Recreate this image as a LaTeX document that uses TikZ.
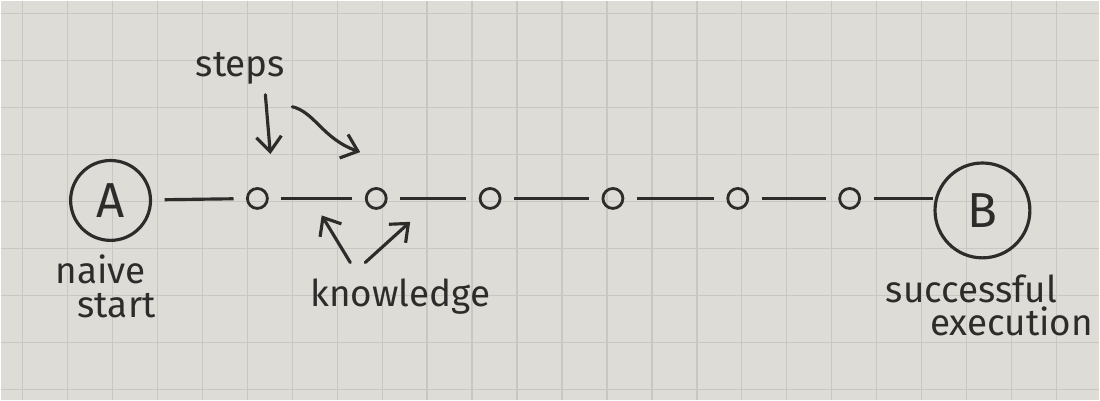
\documentclass[tikz,border=0pt]{standalone}
\usepackage{fontspec}
\setmainfont{Fira Sans}
\usetikzlibrary{arrows.meta}
\definecolor{paper}{HTML}{DEDCD7}
\definecolor{gridc}{HTML}{C9C7C2}
\definecolor{ink}{HTML}{2E2C2A}
\begin{document}
\begin{tikzpicture}[x=0.02cm,y=-0.02cm,
  big/.style={circle,draw=ink,line width=1.8pt,inner sep=0pt,text=ink,font=\fontsize{28}{28}\selectfont},
  dot/.style={circle,draw=ink,line width=1.6pt,minimum size=0.4cm,inner sep=0pt},
  link/.style={draw=ink,line width=1.8pt,shorten <=0.25cm,shorten >=0.25cm},
  pointer/.style={draw=ink,line width=1.8pt,line cap=round,-{Straight Barb[length=3mm,width=5mm,line width=1.8pt]}},
  lbl/.style={text=ink,font=\fontsize{21}{19}\selectfont,inner sep=1pt}]
\fill[paper] (0,0) rectangle (1100,400);
\foreach \x in {22,67,...,1100} \draw[gridc,line width=0.8pt] (\x,0) -- (\x,400);
\foreach \y in {13,60,...,400} \draw[gridc,line width=0.8pt] (0,\y) -- (1100,\y);
\useasboundingbox (0,0) rectangle (1100,400);
% nodes
\node[big,minimum size=1.6cm] (A) at (110,200) {A};
\node[dot] (c1) at (257,198) {};
\node[dot] (c2) at (376,198) {};
\node[dot] (c3) at (490,198) {};
\node[dot] (c4) at (613,198) {};
\node[dot] (c5) at (738,198) {};
\node[dot] (c6) at (850,198) {};
\node[big,minimum size=1.9cm] (B) at (983,210) {B};
% links
\draw[link] (A) -- (c1);
\draw[link] (c1) -- (c2);
\draw[link] (c2) -- (c3);
\draw[link] (c3) -- (c4);
\draw[link] (c4) -- (c5);
\draw[link] (c5) -- (c6);
\draw[link,shorten >=0pt] (c6) -- (c6 -| B.west);
% labels
\node[lbl] (steps) at (240,68) {steps};
\node[lbl,align=left] (naive) at (105,286) {naive\\\hspace*{0.6em}start};
\node[lbl] (know) at (400,296) {knowledge};
\node[lbl,align=left] (succ) at (990,305) {successful\\\hspace*{1.2em}execution};
% pointers
\draw[pointer] ([shift={(25,8)}]steps.south) -- ([shift={(13,-33)}]c1.north);
\draw[pointer] ([shift={(52,20)}]steps.south) .. controls (315,112) and (322,138) .. ([shift={(-16,-35)}]c2.north);
\draw[pointer] ([shift={(-50,-14)}]know.north) -- ([shift={(53,17)}]c1.east);
\draw[pointer] ([shift={(-35,-14)}]know.north) -- ([shift={(34,12)}]c2.south);
\end{tikzpicture}
\end{document}
